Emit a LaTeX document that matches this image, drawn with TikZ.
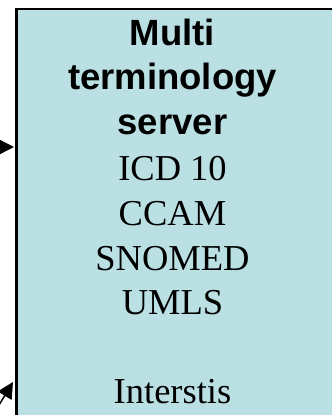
\documentclass[tikz,border=0pt]{standalone}
\usepackage{fontspec}
\setmainfont{Liberation Serif}
\newfontfamily\boldsans{Liberation Sans}
\usetikzlibrary{arrows.meta}
\definecolor{boxfill}{RGB}{186,224,228}
\tikzset{
  bx/.style={draw=black, line width=2.5pt, fill=boxfill, inner sep=0pt,
    minimum width=340pt, minimum height=440pt, anchor=north west},
  ttl/.style={anchor=base, inner sep=0pt, font=\boldsans\bfseries\fontsize{36.5}{40}\selectfont},
  itm/.style={anchor=base, inner sep=0pt, font=\fontsize{36.5}{40}\selectfont},
  arr/.style={line width=1.5pt, -{Triangle[length=16pt,width=16pt]}}
}
\begin{document}
\begin{tikzpicture}[x=1pt,y=1pt]
\useasboundingbox (0,0) rectangle (332,-415);
\node[bx] (server) at (15,-7.5) {};
\node[ttl] (t1) at (172.5,-45) {Multi};
\node[ttl] (t2) at (172.5,-89.5) {terminology};
\node[ttl] (t3) at (172.5,-134) {server};
\node[itm] (i1) at (172.5,-180) {ICD 10};
\node[itm] (i2) at (172.5,-225) {CCAM};
\node[itm] (i3) at (172.5,-270) {SNOMED};
\node[itm] (i4) at (172.5,-314) {UMLS};
\node[itm] (i5) at (172.5,-403) {Interstis};
\coordinate (a1) at (-25,-147);
\coordinate (a1t) at (14,-147);
\coordinate (a2) at (-15,-428);
\coordinate (a2t) at (13,-382);
\draw[arr] (a1) -- (a1t);
\draw[arr] (a2) -- (a2t);
\end{tikzpicture}
\end{document}
